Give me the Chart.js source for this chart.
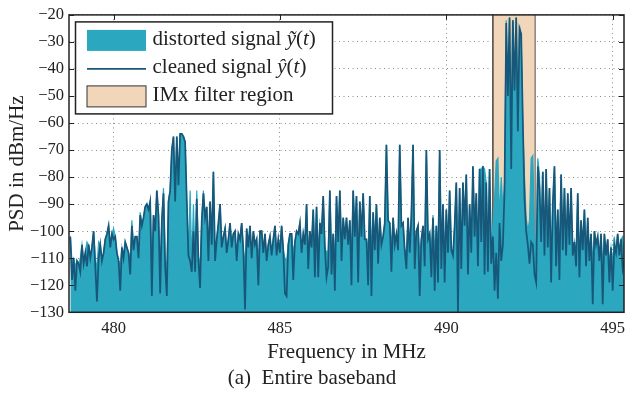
<!DOCTYPE html>
<html>
<head>
<meta charset="utf-8">
<script src="https://cdn.jsdelivr.net/npm/chart.js@4.4.1/dist/chart.umd.min.js"></script>
<style>
  html, body { margin: 0; padding: 0; background: #fff; }
</style>
</head>
<body>
<canvas id="psdChart" width="635" height="396"></canvas>
<script>
// PSD over the entire baseband, bins every 0.05 MHz
const freqStart = 478.7;
const freqStep = 0.05;
const xRange = [478.66, 495.34];
const yRange = [-130, -20];
const xTicks = [480, 485, 490, 495];
const yTicks = [-130, -120, -110, -100, -90, -80, -70, -60, -50, -40, -30, -20];
const filterRegion = [491.4, 492.67];

const distorted = [
  -102, -111, -110, -113, -111, -112, -110, -105, -112, -108,
  -104, -105, -110, -106, -100, -110, -114, -104, -105, -111,
  -108, -103, -101, -98, -106, -101, -99, -102, -108, -111,
  -112, -106, -110, -104, -106, -108, -111, -96, -107, -102,
  -102, -110, -93, -98, -95, -91, -90, -92, -89, -112,
  -94, -100, -85, -94, -113, -96, -84, -110, -114, -89,
  -85, -70, -65, -89, -65, -83, -64, -64, -65, -67,
  -89, -109, -85, -112, -90, -111, -85, -110, -112, -96,
  -85, -95, -91, -110, -89, -105, -78, -110, -103, -97,
  -90, -106, -102, -99, -108, -103, -97, -106, -101, -100,
  -110, -101, -103, -97, -107, -112, -99, -106, -98, -110,
  -100, -105, -103, -110, -100, -100, -108, -101, -110, -105,
  -102, -109, -103, -98, -109, -103, -108, -98, -107, -110,
  -111, -105, -101, -101, -108, -104, -100, -101, -97, -108,
  -101, -105, -90, -108, -100, -106, -92, -107, -91, -108,
  -97, -101, -87, -106, -108, -107, -85, -108, -101, -110,
  -87, -104, -85, -106, -95, -103, -95, -105, -96, -108,
  -85, -102, -87, -108, -89, -102, -86, -103, -103, -107,
  -87, -108, -93, -107, -90, -106, -95, -105, -102, -97,
  -68, -96, -97, -106, -95, -105, -101, -107, -68, -98,
  -97, -107, -107, -95, -108, -94, -68, -107, -100, -98,
  -108, -103, -98, -106, -70, -103, -101, -107, -94, -108,
  -98, -107, -70, -106, -90, -108, -92, -108, -85, -107,
  -109, -98, -82, -106, -84, -107, -82, -98, -79, -108,
  -90, -108, -76, -102, -86, -107, -77, -77, -76, -77,
  -82, -108, -77, -108, -98, -88, -74, -73, -95, -80,
  -92, -82, -22, -58, -21, -62, -22, -57, -21, -60,
  -24, -28, -62, -80, -95, -100, -96, -73, -72, -100,
  -110, -73, -79, -104, -78, -109, -77, -106, -84, -110,
  -90, -76, -108, -92, -109, -79, -107, -84, -109, -86,
  -105, -84, -109, -104, -110, -86, -110, -96, -107, -92,
  -110, -95, -111, -101, -112, -100, -105, -102, -111, -101,
  -113, -101, -109, -103, -112, -106, -112, -102, -108, -101,
  -109, -103, -102, -111
];

const cleaned = [
  -102, -118, -110, -122, -111, -112, -115, -105, -112, -108,
  -113, -105, -110, -106, -100, -113, -126, -110, -105, -111,
  -108, -103, -101, -98, -106, -101, -103, -102, -108, -111,
  -122, -106, -110, -104, -106, -108, -116, -98, -107, -102,
  -102, -110, -94, -98, -95, -91, -90, -92, -89, -124,
  -94, -100, -85, -94, -123, -96, -86, -113, -124, -89,
  -85, -70, -65, -89, -65, -83, -64, -64, -65, -67,
  -89, -109, -111, -115, -100, -115, -88, -111, -121, -96,
  -86, -95, -91, -111, -89, -105, -78, -111, -103, -97,
  -90, -106, -102, -99, -108, -103, -97, -106, -101, -100,
  -111, -101, -103, -97, -107, -129, -99, -106, -98, -110,
  -100, -105, -103, -120, -100, -100, -108, -101, -111, -105,
  -102, -109, -103, -98, -109, -103, -108, -98, -107, -123,
  -124, -105, -101, -101, -118, -104, -100, -101, -97, -108,
  -101, -105, -90, -114, -100, -106, -92, -117, -91, -117,
  -97, -101, -87, -106, -117, -113, -85, -116, -101, -122,
  -87, -104, -85, -111, -95, -103, -95, -105, -96, -120,
  -85, -102, -87, -119, -89, -102, -86, -103, -103, -120,
  -87, -124, -93, -107, -90, -112, -95, -105, -102, -97,
  -68, -96, -97, -115, -95, -105, -101, -107, -68, -98,
  -97, -107, -114, -95, -108, -94, -68, -114, -100, -98,
  -124, -103, -98, -113, -70, -103, -101, -117, -95, -122,
  -98, -119, -70, -114, -90, -119, -92, -108, -85, -107,
  -109, -98, -82, -130, -84, -114, -82, -98, -79, -116,
  -90, -108, -76, -102, -86, -113, -77, -104, -76, -116,
  -82, -115, -77, -112, -102, -122, -108, -125, -97, -111,
  -105, -85, -23, -50, -21, -77, -22, -48, -21, -63,
  -25, -27, -60, -88, -100, -105, -112, -104, -105, -116,
  -119, -76, -84, -104, -78, -109, -77, -106, -84, -119,
  -90, -76, -113, -92, -118, -79, -107, -84, -109, -86,
  -105, -84, -109, -104, -113, -86, -117, -96, -107, -92,
  -113, -95, -111, -101, -127, -100, -105, -102, -111, -101,
  -127, -101, -109, -103, -119, -106, -122, -105, -108, -101,
  -109, -103, -114, -111
];

const serif = '"Liberation Serif", "Times New Roman", serif';
const teal = '#2ba7bf';
const darkBlue = '#17587a';
const peach = '#f2d6b9';

function toPoints(values) {
  return values.map((v, i) => ({ x: freqStart + i * freqStep, y: v }));
}

function drawRich(ctx, parts, x, y) {
  for (const [txt, style] of parts) {
    ctx.font = style + ' 21px ' + serif;
    ctx.fillText(txt, x, y);
    x += ctx.measureText(txt).width;
  }
}

const framePlugin = {
  id: 'frame',
  beforeDatasetsDraw(chart) {
    const { ctx, chartArea: a, scales: { x } } = chart;
    const x0 = x.getPixelForValue(filterRegion[0]);
    const x1 = x.getPixelForValue(filterRegion[1]);
    ctx.save();
    ctx.fillStyle = peach;
    ctx.fillRect(x0, a.top, x1 - x0, a.bottom - a.top);
    ctx.lineWidth = 1.5;
    ctx.strokeStyle = '#4a423c';
    ctx.beginPath();
    ctx.moveTo(x0, a.top); ctx.lineTo(x0, a.bottom);
    ctx.stroke();
    ctx.strokeStyle = '#8a827c';
    ctx.beginPath();
    ctx.moveTo(x1, a.top); ctx.lineTo(x1, a.bottom);
    ctx.stroke();
    ctx.restore();
  },
  afterDatasetsDraw(chart) {
    const { ctx, chartArea: a, scales: { x, y } } = chart;
    ctx.save();
    // inward tick marks
    ctx.strokeStyle = '#222';
    ctx.lineWidth = 1;
    ctx.beginPath();
    yTicks.forEach(v => {
      const py = Math.round(y.getPixelForValue(v)) + 0.5;
      ctx.moveTo(a.left, py); ctx.lineTo(a.left + 5, py);
      ctx.moveTo(a.right, py); ctx.lineTo(a.right - 5, py);
    });
    xTicks.forEach(v => {
      const px = Math.round(x.getPixelForValue(v)) + 0.5;
      ctx.moveTo(px, a.top); ctx.lineTo(px, a.top + 5);
    });
    ctx.stroke();
    // box
    ctx.lineWidth = 1.5;
    ctx.strokeStyle = '#222';
    ctx.strokeRect(a.left, a.top, a.right - a.left, a.bottom - a.top);

    // legend
    const lx = a.left + 6.5, ly = a.top + 7;
    ctx.fillStyle = '#fff';
    ctx.fillRect(lx, ly, 257, 92);
    ctx.strokeRect(lx, ly, 257, 92);
    ctx.fillStyle = teal;
    ctx.fillRect(lx + 11.5, ly + 8, 59, 21);
    ctx.strokeStyle = darkBlue;
    ctx.lineWidth = 1.6;
    ctx.beginPath();
    ctx.moveTo(lx + 11.5, ly + 47); ctx.lineTo(lx + 70.5, ly + 47);
    ctx.stroke();
    ctx.fillStyle = peach;
    ctx.fillRect(lx + 11.5, ly + 64, 59, 21);
    ctx.strokeStyle = '#333';
    ctx.lineWidth = 1;
    ctx.strokeRect(lx + 11.5, ly + 64, 59, 21);

    ctx.fillStyle = '#222';
    ctx.textBaseline = 'middle';
    ctx.textAlign = 'left';
    drawRich(ctx, [['distorted signal ', ''], ['\u1EF9', 'italic'], ['(', ''], ['t', 'italic'], [')', '']], lx + 77, ly + 18);
    drawRich(ctx, [['cleaned signal ', ''], ['\u0177', 'italic'], ['(', ''], ['t', 'italic'], [')', '']], lx + 77, ly + 46);
    drawRich(ctx, [['IMx filter region', '']], lx + 77, ly + 74);
    ctx.restore();
  }
};

new Chart(document.getElementById('psdChart'), {
  type: 'line',
  data: {
    datasets: [
      {
        label: 'cleaned signal',
        data: toPoints(cleaned),
        borderColor: darkBlue,
        borderWidth: 1.75,
        pointRadius: 0,
        fill: false,
        order: 0
      },
      {
        label: 'distorted signal',
        data: toPoints(distorted),
        borderColor: teal,
        backgroundColor: teal,
        borderWidth: 1.2,
        pointRadius: 0,
        fill: 'start',
        order: 1
      }
    ]
  },
  options: {
    responsive: false,
    animation: false,
    devicePixelRatio: 1,
    layout: { padding: { top: 13.5, right: 11, left: 0, bottom: 0 } },
    plugins: {
      legend: { display: false },
      tooltip: { enabled: false },
      title: {
        display: true,
        position: 'bottom',
        text: '(a)  Entire baseband',
        color: '#222',
        font: { family: serif, size: 21, weight: 'normal' },
        padding: { top: 0, bottom: 5 }
      }
    },
    scales: {
      x: {
        type: 'linear',
        min: xRange[0],
        max: xRange[1],
        afterBuildTicks: s => { s.ticks = xTicks.map(v => ({ value: v })); },
        afterFit: s => { s.height = 53.5; },
        ticks: {
          color: '#222',
          padding: 6,
          maxRotation: 0,
          font: { family: serif, size: 16.5 },
          callback: v => String(v)
        },
        grid: { color: '#8a8a8a', lineWidth: 1, drawTicks: false },
        border: { display: false, dash: [1, 3.5] },
        title: {
          display: true,
          text: 'Frequency in MHz',
          color: '#222',
          font: { family: serif, size: 21 },
          padding: { top: 0, bottom: 1 }
        }
      },
      y: {
        min: yRange[0],
        max: yRange[1],
        afterBuildTicks: s => { s.ticks = yTicks.map(v => ({ value: v })); },
        afterFit: s => { s.width = 69; },
        ticks: {
          color: '#222',
          padding: 5,
          font: { family: serif, size: 16.5 },
          callback: v => '\u2212' + Math.abs(v)
        },
        grid: { color: '#8a8a8a', lineWidth: 1, drawTicks: false },
        border: { display: false, dash: [1, 3.5] },
        title: {
          display: true,
          text: 'PSD in dBm/Hz',
          color: '#222',
          font: { family: serif, size: 21 },
          padding: { top: 5, bottom: 0 }
        }
      }
    }
  },
  plugins: [framePlugin]
});
</script>
</body>
</html>
